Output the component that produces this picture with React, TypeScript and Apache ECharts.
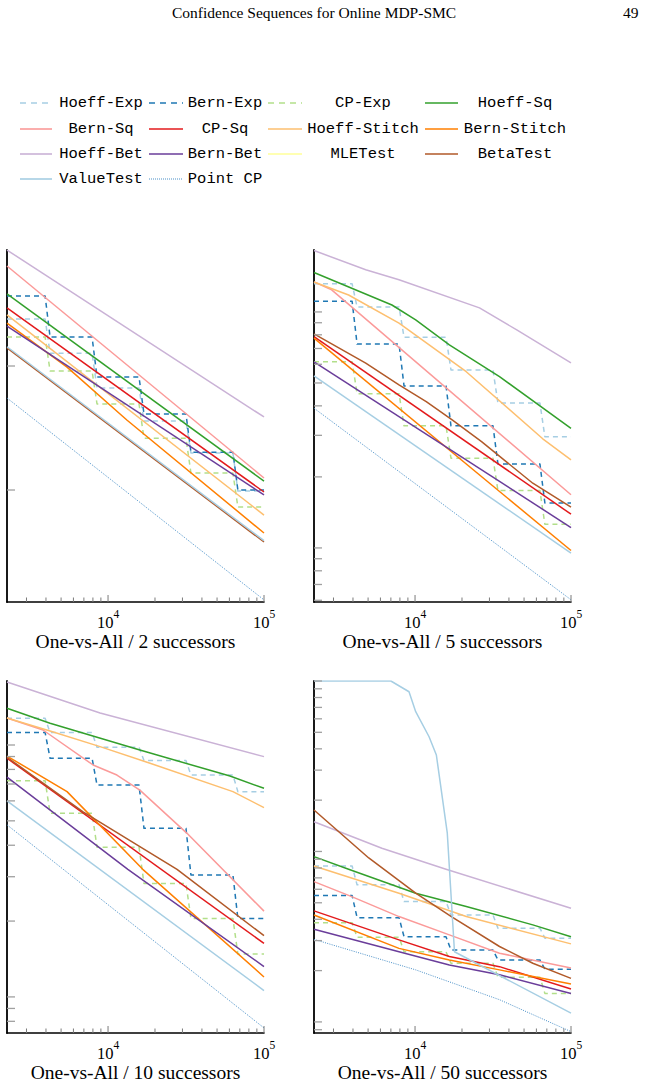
import React, { useEffect, useRef } from "react";
import * as echarts from "echarts";

const FONT_SERIF = '"Liberation Serif", "DejaVu Serif", serif';
const FONT_MONO = '"Liberation Mono", "DejaVu Sans Mono", monospace';

// ---------- shared axis data ----------
const X_MIN = 2250;
const X_MAX = 100000;
const xMajorTicks = [10000, 100000];
const xMinorTicks = [3000, 4000, 5000, 6000, 7000, 8000, 9000, 20000, 30000, 40000, 50000, 60000, 70000, 80000, 90000];
// doubling epochs (2^12 ... 2^16) of the "-Exp" step bounds
const epochStart = [2250, 4250, 8500, 17000, 34000, 68000];
const epochEnd = [3950, 7900, 15800, 31600, 63200, 100000];

const seriesNames = ["Hoeff-Exp", "Bern-Exp", "CP-Exp", "Hoeff-Sq", "Bern-Sq", "CP-Sq", "Hoeff-Stitch", "Bern-Stitch", "Hoeff-Bet", "Bern-Bet", "MLETest", "BetaTest", "ValueTest", "Point CP"];
const seriesColors = ["#a6cee3", "#1f78b4", "#b2df8a", "#33a02c", "#fb9a99", "#e31a1c", "#fdbf6f", "#ff7f00", "#cab2d6", "#6a3d9a", "#ffff99", "#b15928", "#a6cee3", "#4a90c8"];
const seriesDash: (number[] | null)[] = [[5, 4], [5, 4], [5, 4], null, null, null, null, null, null, null, null, null, null, [1, 1.3]];

// ---------- panel 1 : 2 successors ----------
const p2Caption = "One-vs-All / 2 successors";
const p2YMin = 0.00125;
const p2YMax = 0.862;
const p2YMajor = [0.1, 0.01];
const p2YMinor: number[] = [];
const p2HoeffExp = [0.239, 0.127, 0.0665, 0.036, 0.0199, 0.0098];
const p2BernExp = [0.367, 0.171, 0.0815, 0.041, 0.0202, 0.01];
const p2CPExp = [0.171, 0.0912, 0.0494, 0.0262, 0.0137, 0.0073];
const p2HoeffSq = [[2250, 0.381], [100000, 0.0118]];
const p2BernSq = [[2250, 0.64], [100000, 0.0125]];
const p2CPSq = [[2250, 0.294], [100000, 0.00964]];
const p2HoeffStitch = [[2250, 0.258], [100000, 0.00628]];
const p2BernStitch = [[2250, 0.222], [5460, 0.098], [13200, 0.0367], [100000, 0.0045]];
const p2HoeffBet = [[2250, 0.861], [100000, 0.0388]];
const p2BernBet = [[2250, 0.21], [100000, 0.00912]];
const p2BetaTest = [[2250, 0.14], [100000, 0.00381]];
const p2ValueTest = [[2250, 0.143], [100000, 0.0039]];
const p2PointCP = [[2250, 0.0552], [100000, 0.0013]];

// ---------- panel 2 : 5 successors ----------
const p5Caption = "One-vs-All / 5 successors";
const p5YMin = 0.0059;
const p5YMax = 0.183;
const p5YMajor = [0.1, 0.01];
const p5YMinor = [0.006, 0.007, 0.008, 0.009, 0.02, 0.03, 0.04, 0.05, 0.06, 0.07, 0.08, 0.09];
const p5HoeffExp = [0.1315, 0.105, 0.0781, 0.0568, 0.0411, 0.0296];
const p5BernExp = [0.111, 0.0731, 0.0486, 0.0329, 0.0227, 0.0155];
const p5CPExp = [0.0615, 0.045, 0.0329, 0.024, 0.0175, 0.0126];
const p5HoeffSq = [[2250, 0.147], [7110, 0.107], [10100, 0.0925], [16600, 0.0725], [34800, 0.0532], [100000, 0.0321]];
const p5BernSq = [[2250, 0.134], [2920, 0.124], [3920, 0.105], [100000, 0.0168]];
const p5CPSq = [[2250, 0.0786], [100000, 0.0139]];
const p5HoeffStitch = [[2250, 0.134], [3750, 0.118], [7890, 0.0896], [21300, 0.0558], [65900, 0.029], [100000, 0.0236]];
const p5BernStitch = [[2250, 0.0774], [100000, 0.00975]];
const p5HoeffBet = [[2250, 0.182], [4830, 0.151], [7890, 0.137], [25900, 0.104], [44900, 0.0839], [100000, 0.0608]];
const p5BernBet = [[2250, 0.0615], [100000, 0.0122]];
const p5BetaTest = [[2250, 0.0807], [4830, 0.0607], [7890, 0.0491], [11800, 0.0417], [17300, 0.0349], [26700, 0.0282], [56900, 0.0188], [100000, 0.0149]];
const p5ValueTest = [[2250, 0.0536], [100000, 0.0095]];
const p5PointCP = [[2250, 0.0391], [100000, 0.00603]];

// ---------- panel 3 : 10 successors ----------
const p10Caption = "One-vs-All / 10 successors";
const p10YMin = 0.00719;
const p10YMax = 0.1795;
const p10YMajor = [0.1, 0.01];
const p10YMinor = [0.008, 0.009, 0.02, 0.03, 0.04, 0.05, 0.06, 0.07, 0.08, 0.09];
const p10HoeffExp = [0.1276, 0.112, 0.098, 0.0867, 0.076, 0.0653];
const p10BernExp = [0.112, 0.0886, 0.0693, 0.0467, 0.0305, 0.0205];
const p10CPExp = [0.0722, 0.0536, 0.0393, 0.0282, 0.0205, 0.0148];
const p10HoeffSq = [[2250, 0.14], [4250, 0.122], [16000, 0.0955], [60500, 0.0753], [100000, 0.0673]];
const p10BernSq = [[2250, 0.128], [3830, 0.1147], [8020, 0.0833], [11400, 0.076], [16000, 0.0662], [32100, 0.0446], [100000, 0.0219]];
const p10CPSq = [[2250, 0.0886], [100000, 0.0163]];
const p10HoeffStitch = [[2250, 0.128], [4250, 0.1137], [8890, 0.0985], [18600, 0.0846], [63200, 0.0653], [100000, 0.0564]];
const p10BernStitch = [[2250, 0.0904], [5460, 0.0653], [16700, 0.0321], [100000, 0.012]];
const p10HoeffBet = [[2250, 0.178], [8890, 0.134], [100000, 0.0899]];
const p10BernBet = [[2250, 0.0745], [13400, 0.0321], [100000, 0.0132]];
const p10BetaTest = [[2250, 0.0894], [6920, 0.0543], [27700, 0.0321], [100000, 0.0175]];
const p10ValueTest = [[2250, 0.06], [100000, 0.0106]];
const p10PointCP = [[2250, 0.0482], [100000, 0.00753]];

// ---------- panel 4 : 50 successors ----------
const p50Caption = "One-vs-All / 50 successors";
const p50YMin = 0.00861;
const p50YMax = 1;
const p50YMajor = [1, 0.1, 0.01];
const p50YMinor = [0.009, 0.02, 0.03, 0.04, 0.05, 0.06, 0.07, 0.08, 0.09, 0.2, 0.3, 0.4, 0.5, 0.6, 0.7, 0.8, 0.9];
const p50HoeffExp = [0.0822, 0.0637, 0.0508, 0.0424, 0.0355, 0.031];
const p50BernExp = [0.0551, 0.0409, 0.0316, 0.0264, 0.0231, 0.0204];
const p50CPExp = [0.0382, 0.0314, 0.0258, 0.0221, 0.0183, 0.0147];
const p50HoeffSq = [[2250, 0.0933], [3750, 0.0787], [10100, 0.0569], [21300, 0.0475], [56900, 0.0371], [100000, 0.0316]];
const p50BernSq = [[2250, 0.0665], [3925, 0.0543], [7890, 0.0415], [16600, 0.0324], [34800, 0.0253], [100000, 0.0207]];
const p50CPSq = [[2250, 0.0448], [7890, 0.0303], [16600, 0.0242], [34800, 0.0211], [100000, 0.0156]];
const p50HoeffStitch = [[2250, 0.0822], [7890, 0.0569], [21300, 0.0415], [100000, 0.0287]];
const p50BernStitch = [[2250, 0.0424], [7890, 0.027], [16600, 0.0231], [34800, 0.0202], [100000, 0.0167]];
const p50HoeffBet = [[2250, 0.1495], [6130, 0.1045], [15800, 0.0787], [100000, 0.0464]];
const p50BernBet = [[2250, 0.035], [7890, 0.0258], [16600, 0.0216], [34800, 0.0189], [100000, 0.0147]];
const p50BetaTest = [[2250, 0.175], [5050, 0.0916], [10100, 0.0569], [17100, 0.0415], [34800, 0.0277], [56900, 0.0221], [100000, 0.018]];
const p50ValueTest = [[2250, 1], [7000, 1], [9150, 0.865], [10100, 0.661], [12300, 0.471], [13700, 0.368], [16100, 0.128], [17900, 0.0258], [100000, 0.01125]];
const p50PointCP = [[2250, 0.0305], [10100, 0.0202], [34800, 0.0135], [100000, 0.00877]];

// ---------- layout ----------
const GRID_POS = [
  { left: 7, top: 250 },
  { left: 314, top: 250 },
  { left: 7, top: 681 },
  { left: 314, top: 681 },
];
const GRID_W = 257;
const GRID_H = 352;

function steps(levels: number[]) {
  const out: number[][] = [];
  levels.forEach((v, i) => {
    out.push([epochStart[i], v]);
    out.push([epochEnd[i], v]);
  });
  return out;
}

const panels = [
  {
    caption: p2Caption, yMin: p2YMin, yMax: p2YMax, yMajor: p2YMajor, yMinor: p2YMinor,
    data: [steps(p2HoeffExp), steps(p2BernExp), steps(p2CPExp), p2HoeffSq, p2BernSq, p2CPSq, p2HoeffStitch, p2BernStitch, p2HoeffBet, p2BernBet, [], p2BetaTest, p2ValueTest, p2PointCP],
  },
  {
    caption: p5Caption, yMin: p5YMin, yMax: p5YMax, yMajor: p5YMajor, yMinor: p5YMinor,
    data: [steps(p5HoeffExp), steps(p5BernExp), steps(p5CPExp), p5HoeffSq, p5BernSq, p5CPSq, p5HoeffStitch, p5BernStitch, p5HoeffBet, p5BernBet, [], p5BetaTest, p5ValueTest, p5PointCP],
  },
  {
    caption: p10Caption, yMin: p10YMin, yMax: p10YMax, yMajor: p10YMajor, yMinor: p10YMinor,
    data: [steps(p10HoeffExp), steps(p10BernExp), steps(p10CPExp), p10HoeffSq, p10BernSq, p10CPSq, p10HoeffStitch, p10BernStitch, p10HoeffBet, p10BernBet, [], p10BetaTest, p10ValueTest, p10PointCP],
  },
  {
    caption: p50Caption, yMin: p50YMin, yMax: p50YMax, yMajor: p50YMajor, yMinor: p50YMinor,
    data: [steps(p50HoeffExp), steps(p50BernExp), steps(p50CPExp), p50HoeffSq, p50BernSq, p50CPSq, p50HoeffStitch, p50BernStitch, p50HoeffBet, p50BernBet, [], p50BetaTest, p50ValueTest, p50PointCP],
  },
];

// legend layout (4 columns)
const LEG_LINE_X = [[20, 52], [149, 183], [268, 302], [425, 458]];
const LEG_TEXT_C = [101, 225, 363, 515];
const LEG_ROW_Y = [103, 129, 154, 179];

function buildOption() {
  const grid: any[] = [];
  const xAxis: any[] = [];
  const yAxis: any[] = [];
  const series: any[] = [];

  panels.forEach((p, g) => {
    grid.push({ left: GRID_POS[g].left, top: GRID_POS[g].top, width: GRID_W, height: GRID_H, outerBoundsMode: "none", containLabel: false });
    xAxis.push({
      type: "log",
      logBase: 10,
      gridIndex: g,
      min: X_MIN,
      max: X_MAX,
      name: p.caption,
      nameLocation: "middle",
      nameGap: 27,
      nameTextStyle: { fontFamily: FONT_SERIF, fontSize: 19.5, color: "#000" },
      axisLine: { show: true, onZero: false, lineStyle: { color: "#000", width: 1.6 } },
      axisTick: { show: false },
      splitLine: { show: false },
      minorTick: { show: false },
      axisLabel: {
        show: true,
        margin: 6,
        showMinLabel: true,
        showMaxLabel: true,
        hideOverlap: false,
        formatter: (v: number) => {
          const e = Math.log10(v);
          if (Math.abs(e - Math.round(e)) < 1e-6) return "{b|10}{s|" + Math.round(e) + "}";
          return "";
        },
        rich: {
          b: { fontFamily: FONT_SERIF, fontSize: 16.5, color: "#000", lineHeight: 23, verticalAlign: "bottom" },
          s: { fontFamily: FONT_SERIF, fontSize: 11.5, color: "#000", lineHeight: 12, verticalAlign: "top" },
        },
      },
    });
    yAxis.push({
      type: "log",
      logBase: 10,
      gridIndex: g,
      min: p.yMin,
      max: p.yMax,
      axisLine: { show: true, onZero: false, lineStyle: { color: "#000", width: 1.8 } },
      axisTick: { show: false },
      axisLabel: { show: false },
      splitLine: { show: false },
    });

    p.data.forEach((d, i) => {
      if (!d || d.length === 0) return;
      const dash = seriesDash[i];
      series.push({
        type: "line",
        name: seriesNames[i],
        xAxisIndex: g,
        yAxisIndex: g,
        data: d,
        symbol: "none",
        showSymbol: false,
        silent: true,
        clip: true,
        z: 2,
        lineStyle: {
          color: seriesColors[i],
          width: i === 13 ? 1 : 1.5,
          type: dash ? dash : "solid",
          join: "round",
        },
      });
    });

    // ticks drawn through the axes' scales
    const tickData: number[][] = [];
    xMinorTicks.forEach((t) => tickData.push([t, p.yMin, 0]));
    xMajorTicks.forEach((t) => tickData.push([t, p.yMin, 1]));
    p.yMinor.forEach((t) => tickData.push([X_MIN, t, 2]));
    p.yMajor.forEach((t) => tickData.push([X_MIN, t, 3]));
    series.push({
      type: "custom",
      coordinateSystem: "cartesian2d",
      xAxisIndex: g,
      yAxisIndex: g,
      silent: true,
      clip: false,
      z: 5,
      data: tickData,
      renderItem: (params: any, api: any) => {
        const pt = api.coord([api.value(0), api.value(1)]);
        const kind = api.value(2);
        if (kind === 0 || kind === 1) {
          const len = kind === 1 ? 7 : 4.5;
          return {
            type: "line",
            shape: { x1: pt[0], y1: pt[1], x2: pt[0], y2: pt[1] - len },
            style: { stroke: "#7a7a7a", lineWidth: 1 },
          };
        }
        return {
          type: "line",
          shape: { x1: pt[0], y1: pt[1], x2: pt[0] + 8, y2: pt[1] },
          style: { stroke: "#a0a0a0", lineWidth: 1.3 },
        };
      },
    });
  });

  // legend + header drawn as graphic
  const graphic: any[] = [];
  graphic.push({
    type: "text",
    left: 172,
    top: 4,
    style: { text: "Confidence Sequences for Online MDP-SMC", fontFamily: FONT_SERIF, fontSize: 15.5, fill: "#000" },
  });
  graphic.push({
    type: "text",
    left: 623,
    top: 4,
    style: { text: "49", fontFamily: FONT_SERIF, fontSize: 15.5, fill: "#000" },
  });
  seriesNames.forEach((name, i) => {
    const row = Math.floor(i / 4);
    const col = i % 4;
    const y = LEG_ROW_Y[row];
    const dash = seriesDash[i];
    graphic.push({
      type: "line",
      shape: { x1: LEG_LINE_X[col][0], y1: y, x2: LEG_LINE_X[col][1], y2: y },
      style: { stroke: seriesColors[i], lineWidth: i === 13 ? 1.2 : 1.6, lineDash: dash ? (i === 13 ? [1, 1] : [6, 5]) : null },
    });
    graphic.push({
      type: "text",
      x: LEG_TEXT_C[col],
      y: y,
      style: { text: name, fontFamily: FONT_MONO, fontSize: 15.5, fill: "#000", align: "center", verticalAlign: "middle" },
    });
  });

  return { animation: false, backgroundColor: "#fff", grid, xAxis, yAxis, series, graphic };
}

export default function App() {
  const ref = useRef<HTMLDivElement>(null);
  useEffect(() => {
    document.body.style.margin = "0";
    if (!ref.current) return;
    const chart = echarts.init(ref.current, undefined, { renderer: "svg" });
    chart.setOption(buildOption() as any);
    return () => chart.dispose();
  }, []);
  return <div ref={ref} style={{ position: "absolute", left: 0, top: 0, width: 646, height: 1087 }} />;
}
